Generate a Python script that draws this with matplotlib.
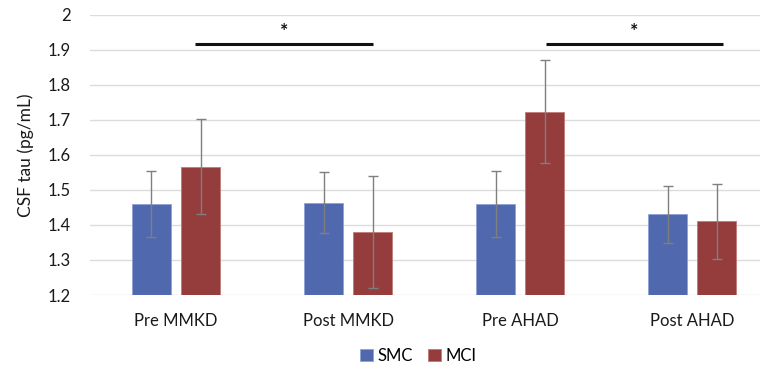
import numpy as np
import matplotlib
matplotlib.use("Agg")
import matplotlib.pyplot as plt

plt.rcParams['font.family'] = ['Lato', 'DejaVu Sans']

categories = ["Pre MMKD", "Post MMKD", "Pre AHAD", "Post AHAD"]
smc = [1.46, 1.464, 1.46, 1.43]
smc_err = [0.093, 0.088, 0.093, 0.082]
mci = [1.567, 1.38, 1.724, 1.41]
mci_err = [0.137, 0.161, 0.146, 0.108]

# significance brackets: (x start, x end, y)
sig_lines = [(0.113, 1.142, 1.916), (2.148, 3.177, 1.916)]

fig = plt.figure(figsize=(7.66, 3.70), dpi=100)
ax = fig.add_axes([0.1175, 0.2027, 0.875, 0.7568])

x = np.arange(len(categories))
w = 0.226
off = 0.143
err_kw = dict(ecolor='#7f7f7f', elinewidth=1.0, capsize=3.5, capthick=1.0)
ax.bar(x - off, smc, w, yerr=smc_err, color='#5068ad',
       edgecolor='#8fa0d6', linewidth=0.6, error_kw=err_kw, label='SMC', zorder=2)
ax.bar(x + off, mci, w, yerr=mci_err, color='#953d3c',
       edgecolor='#c07a78', linewidth=0.6, error_kw=err_kw, label='MCI', zorder=2)

for x0, x1, y in sig_lines:
    ax.plot([x0, x1], [y, y], color='#111111', lw=2.2, solid_capstyle='butt', zorder=3)
    ax.text((x0 + x1) / 2, y + 0.012, '*', ha='center', va='bottom',
            fontsize=14, fontweight='bold', color='#111111')

ax.set_ylim(1.2, 2.0)
ax.set_xlim(-0.5, 3.395)
ax.set_yticks(np.arange(1.2, 2.01, 0.1))
ax.set_yticklabels(['1.2', '1.3', '1.4', '1.5', '1.6', '1.7', '1.8', '1.9', '2'])
ax.set_xticks(x)
ax.set_xticklabels(categories)
ax.tick_params(axis='both', length=0, labelsize=12, colors='#1a1a1a')
ax.tick_params(axis='x', pad=13)
ax.tick_params(axis='y', pad=14)
ax.grid(axis='y', color='#dcdcdc', lw=1.0, zorder=0)
ax.set_axisbelow(True)
for s in ax.spines.values():
    s.set_visible(False)

ax.set_ylabel('CSF tau (pg/mL)', fontsize=12.5, color='#1a1a1a', labelpad=10)

ax.legend(loc='upper center', bbox_to_anchor=(0.49, -0.135), ncol=2, frameon=False,
          fontsize=12, handlelength=0.75, handleheight=0.75, handletextpad=0.3,
          columnspacing=0.9)

fig.savefig('out.png', dpi=100)
